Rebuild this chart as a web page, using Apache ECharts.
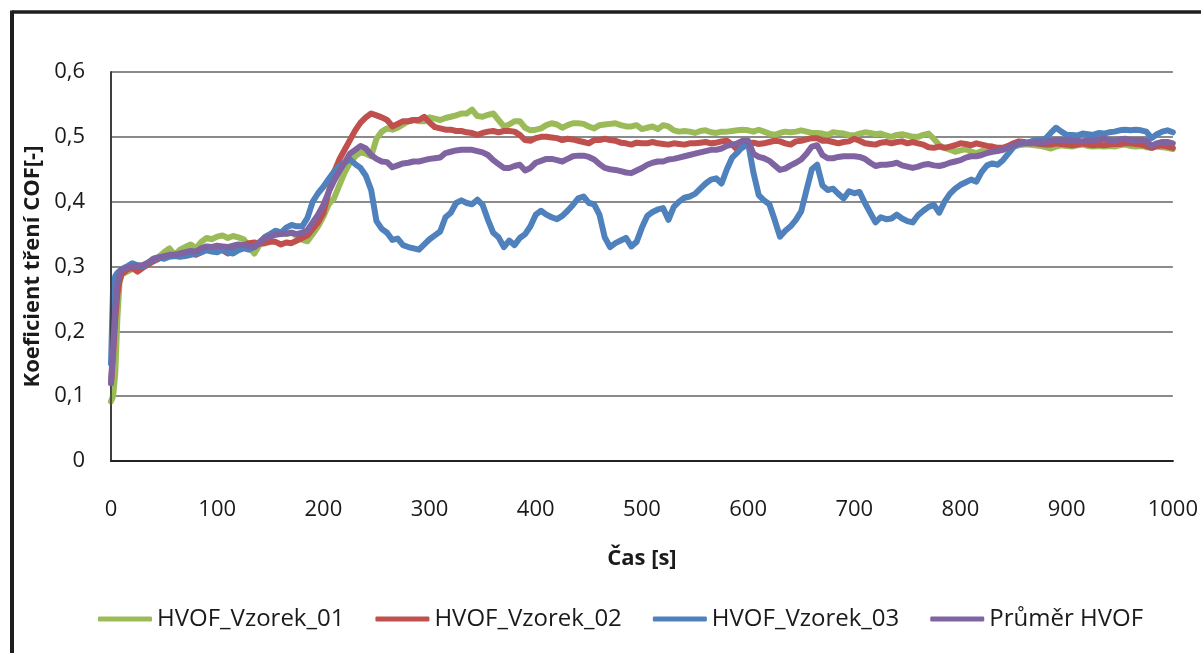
<!DOCTYPE html>
<html>
<head>
<meta charset="utf-8">
<title>Koeficient tření COF – HVOF</title>
<script src="https://cdn.jsdelivr.net/npm/echarts@6/dist/echarts.min.js"></script>
<style>
  html, body { margin: 0; padding: 0; background: #fff; }
  #chart { width: 1201px; height: 653px; }
</style>
</head>
<body>
<div id="chart"></div>
<script>
// Measurement time [s]
const times = [
  0, 2, 4, 6, 8, 10,
  15, 20, 25, 30, 35, 40, 45, 50, 55, 60,
  65, 70, 75, 80, 85, 90, 95, 100, 105, 110,
  115, 120, 125, 130, 135, 140, 145, 150, 155, 160,
  165, 170, 175, 180, 185, 190, 195, 200, 205, 210,
  215, 220, 225, 230, 235, 240, 245, 250, 255, 260,
  265, 270, 275, 280, 285, 290, 295, 300, 305, 310,
  315, 320, 325, 330, 335, 340, 345, 350, 355, 360,
  365, 370, 375, 380, 385, 390, 395, 400, 405, 410,
  415, 420, 425, 430, 435, 440, 445, 450, 455, 460,
  465, 470, 475, 480, 485, 490, 495, 500, 505, 510,
  515, 520, 525, 530, 535, 540, 545, 550, 555, 560,
  565, 570, 575, 580, 585, 590, 595, 600, 605, 610,
  615, 620, 625, 630, 635, 640, 645, 650, 655, 660,
  665, 670, 675, 680, 685, 690, 695, 700, 705, 710,
  715, 720, 725, 730, 735, 740, 745, 750, 755, 760,
  765, 770, 775, 780, 785, 790, 795, 800, 805, 810,
  815, 820, 825, 830, 835, 840, 845, 850, 855, 860,
  865, 870, 875, 880, 885, 890, 895, 900, 905, 910,
  915, 920, 925, 930, 935, 940, 945, 950, 955, 960,
  965, 970, 975, 980, 985, 990, 995, 1000
];

// Friction coefficient, sample 01
const vzorek01 = [
  0.092, 0.100, 0.135, 0.220, 0.275, 0.288,
  0.292, 0.296, 0.300, 0.302, 0.306, 0.312, 0.315, 0.322, 0.328, 0.318,
  0.326, 0.330, 0.334, 0.328, 0.338, 0.344, 0.342, 0.346, 0.348, 0.344,
  0.347, 0.345, 0.342, 0.330, 0.320, 0.334, 0.346, 0.350, 0.355, 0.353,
  0.350, 0.352, 0.347, 0.341, 0.339, 0.350, 0.362, 0.377, 0.396, 0.405,
  0.425, 0.445, 0.460, 0.470, 0.476, 0.474, 0.470, 0.497, 0.508, 0.513,
  0.511, 0.514, 0.519, 0.524, 0.526, 0.524, 0.524, 0.530, 0.528, 0.526,
  0.529, 0.531, 0.533, 0.536, 0.536, 0.542, 0.532, 0.531, 0.534, 0.536,
  0.526, 0.516, 0.519, 0.524, 0.524, 0.514, 0.510, 0.511, 0.513, 0.518,
  0.521, 0.519, 0.514, 0.518, 0.521, 0.521, 0.520, 0.516, 0.513, 0.518,
  0.519, 0.520, 0.521, 0.518, 0.516, 0.516, 0.518, 0.512, 0.514, 0.516,
  0.512, 0.518, 0.516, 0.510, 0.508, 0.509, 0.508, 0.506, 0.509, 0.510,
  0.507, 0.506, 0.508, 0.508, 0.509, 0.510, 0.511, 0.510, 0.508, 0.511,
  0.508, 0.505, 0.503, 0.506, 0.508, 0.507, 0.508, 0.510, 0.508, 0.506,
  0.506, 0.505, 0.503, 0.507, 0.506, 0.505, 0.503, 0.502, 0.505, 0.507,
  0.506, 0.504, 0.505, 0.502, 0.500, 0.503, 0.504, 0.502, 0.500, 0.500,
  0.503, 0.505, 0.497, 0.487, 0.483, 0.480, 0.477, 0.479, 0.481, 0.477,
  0.475, 0.478, 0.477, 0.479, 0.480, 0.481, 0.483, 0.486, 0.487, 0.488,
  0.488, 0.487, 0.486, 0.484, 0.482, 0.485, 0.487, 0.486, 0.485, 0.487,
  0.488, 0.486, 0.485, 0.486, 0.485, 0.486, 0.485, 0.487, 0.488, 0.486,
  0.485, 0.486, 0.484, 0.483, 0.485, 0.484, 0.483, 0.481
];

// Friction coefficient, sample 02
const vzorek02 = [
  0.120, 0.165, 0.220, 0.258, 0.278, 0.288,
  0.295, 0.298, 0.292, 0.298, 0.303, 0.308, 0.312, 0.315, 0.316, 0.318,
  0.318, 0.320, 0.321, 0.318, 0.322, 0.326, 0.330, 0.331, 0.325, 0.320,
  0.326, 0.330, 0.333, 0.336, 0.337, 0.335, 0.336, 0.338, 0.338, 0.334,
  0.337, 0.336, 0.340, 0.344, 0.348, 0.358, 0.368, 0.383, 0.415, 0.445,
  0.465, 0.480, 0.495, 0.510, 0.522, 0.530, 0.536, 0.533, 0.530, 0.526,
  0.516, 0.520, 0.524, 0.524, 0.526, 0.526, 0.531, 0.522, 0.515, 0.513,
  0.511, 0.511, 0.509, 0.509, 0.507, 0.506, 0.503, 0.506, 0.508, 0.509,
  0.507, 0.509, 0.509, 0.508, 0.503, 0.495, 0.494, 0.498, 0.500, 0.500,
  0.499, 0.498, 0.495, 0.497, 0.496, 0.494, 0.492, 0.490, 0.495, 0.495,
  0.497, 0.495, 0.494, 0.491, 0.490, 0.488, 0.491, 0.490, 0.490, 0.492,
  0.490, 0.489, 0.488, 0.490, 0.489, 0.488, 0.490, 0.490, 0.491, 0.492,
  0.490, 0.491, 0.493, 0.494, 0.488, 0.480, 0.484, 0.490, 0.491, 0.489,
  0.490, 0.492, 0.494, 0.493, 0.490, 0.488, 0.493, 0.494, 0.496, 0.498,
  0.498, 0.494, 0.494, 0.492, 0.490, 0.492, 0.493, 0.497, 0.494, 0.490,
  0.489, 0.488, 0.491, 0.492, 0.490, 0.492, 0.493, 0.490, 0.492, 0.490,
  0.488, 0.484, 0.483, 0.485, 0.483, 0.485, 0.487, 0.490, 0.489, 0.487,
  0.490, 0.488, 0.486, 0.485, 0.483, 0.483, 0.486, 0.490, 0.493, 0.492,
  0.490, 0.490, 0.489, 0.488, 0.488, 0.490, 0.489, 0.488, 0.487, 0.488,
  0.490, 0.488, 0.487, 0.488, 0.487, 0.488, 0.489, 0.489, 0.490, 0.490,
  0.489, 0.488, 0.486, 0.483, 0.486, 0.487, 0.485, 0.483
];

// Friction coefficient, sample 03
const vzorek03 = [
  0.150, 0.270, 0.285, 0.290, 0.293, 0.296,
  0.300, 0.305, 0.302, 0.300, 0.306, 0.310, 0.314, 0.312, 0.315, 0.316,
  0.315, 0.316, 0.318, 0.320, 0.322, 0.325, 0.323, 0.322, 0.326, 0.322,
  0.320, 0.325, 0.328, 0.326, 0.330, 0.338, 0.345, 0.350, 0.355, 0.352,
  0.360, 0.364, 0.362, 0.362, 0.375, 0.400, 0.413, 0.423, 0.435, 0.446,
  0.455, 0.460, 0.465, 0.458, 0.452, 0.440, 0.418, 0.370, 0.358, 0.352,
  0.341, 0.343, 0.333, 0.330, 0.328, 0.326, 0.334, 0.342, 0.348, 0.354,
  0.376, 0.383, 0.398, 0.402, 0.398, 0.396, 0.403, 0.395, 0.372, 0.352,
  0.345, 0.330, 0.340, 0.333, 0.344, 0.350, 0.362, 0.380, 0.386, 0.380,
  0.376, 0.373, 0.378, 0.386, 0.395, 0.405, 0.408, 0.398, 0.396, 0.380,
  0.345, 0.330, 0.336, 0.340, 0.344, 0.331, 0.338, 0.360, 0.378, 0.384,
  0.388, 0.390, 0.372, 0.392, 0.400, 0.406, 0.408, 0.412, 0.420, 0.428,
  0.434, 0.436, 0.428, 0.450, 0.468, 0.476, 0.485, 0.490, 0.445, 0.410,
  0.402, 0.396, 0.372, 0.346, 0.355, 0.362, 0.372, 0.385, 0.418, 0.450,
  0.457, 0.425, 0.418, 0.420, 0.412, 0.405, 0.416, 0.413, 0.415, 0.398,
  0.383, 0.368, 0.376, 0.373, 0.374, 0.380, 0.374, 0.370, 0.368, 0.379,
  0.386, 0.392, 0.395, 0.383, 0.400, 0.412, 0.420, 0.426, 0.430, 0.434,
  0.431, 0.446, 0.456, 0.459, 0.457, 0.464, 0.474, 0.484, 0.489, 0.490,
  0.492, 0.495, 0.495, 0.497, 0.506, 0.514, 0.508, 0.503, 0.503, 0.502,
  0.505, 0.504, 0.503, 0.506, 0.505, 0.507, 0.508, 0.510, 0.511, 0.510,
  0.511, 0.510, 0.508, 0.498, 0.504, 0.508, 0.510, 0.507
];

// Mean of the three samples
const prumer = [
  0.120, 0.175, 0.235, 0.272, 0.288, 0.295,
  0.298, 0.300, 0.301, 0.302, 0.306, 0.312, 0.314, 0.316, 0.318, 0.318,
  0.320, 0.322, 0.324, 0.323, 0.328, 0.331, 0.330, 0.332, 0.331, 0.330,
  0.332, 0.334, 0.333, 0.332, 0.330, 0.336, 0.344, 0.346, 0.349, 0.350,
  0.351, 0.352, 0.350, 0.352, 0.356, 0.368, 0.380, 0.395, 0.415, 0.432,
  0.447, 0.460, 0.474, 0.480, 0.486, 0.482, 0.472, 0.466, 0.462, 0.461,
  0.453, 0.456, 0.459, 0.460, 0.462, 0.462, 0.464, 0.466, 0.467, 0.468,
  0.475, 0.477, 0.479, 0.480, 0.480, 0.480, 0.478, 0.476, 0.472, 0.464,
  0.458, 0.452, 0.452, 0.455, 0.457, 0.448, 0.452, 0.460, 0.463, 0.466,
  0.466, 0.464, 0.462, 0.466, 0.470, 0.471, 0.471, 0.469, 0.465, 0.458,
  0.452, 0.450, 0.449, 0.447, 0.445, 0.444, 0.448, 0.452, 0.457, 0.460,
  0.462, 0.462, 0.465, 0.466, 0.468, 0.470, 0.472, 0.474, 0.476, 0.478,
  0.480, 0.480, 0.482, 0.486, 0.488, 0.490, 0.494, 0.494, 0.474, 0.469,
  0.467, 0.463, 0.456, 0.449, 0.451, 0.456, 0.460, 0.465, 0.474, 0.485,
  0.487, 0.472, 0.467, 0.467, 0.469, 0.470, 0.470, 0.470, 0.469, 0.466,
  0.460, 0.455, 0.457, 0.457, 0.458, 0.460, 0.456, 0.454, 0.452, 0.454,
  0.457, 0.458, 0.456, 0.455, 0.457, 0.460, 0.462, 0.464, 0.468, 0.470,
  0.470, 0.472, 0.475, 0.477, 0.478, 0.480, 0.484, 0.487, 0.490, 0.490,
  0.490, 0.491, 0.492, 0.492, 0.494, 0.495, 0.495, 0.495, 0.494, 0.494,
  0.493, 0.495, 0.494, 0.496, 0.497, 0.495, 0.494, 0.496, 0.497, 0.495,
  0.495, 0.495, 0.494, 0.486, 0.490, 0.492, 0.492, 0.490
];

const seriesNames = ['HVOF_Vzorek_01', 'HVOF_Vzorek_02', 'HVOF_Vzorek_03', 'Průměr HVOF'];
const seriesColors = ['#9BBB59', '#C0504D', '#4F81BD', '#8064A2'];
const seriesValues = [vzorek01, vzorek02, vzorek03, prumer];

const FONT = '"Open Sans", "Liberation Sans", sans-serif';
const TEXT = '#1a1a1a';
const LINE_WIDTH = 6;

function pairs(values) {
  const out = [];
  for (let i = 0; i < times.length && i < values.length; i++) {
    out.push([times[i], values[i]]);
  }
  return out;
}

const chart = echarts.init(document.getElementById('chart'), null, { renderer: 'canvas' });

const series = seriesNames.map((name, i) => ({
  name: name,
  type: 'line',
  data: pairs(seriesValues[i]),
  showSymbol: false,
  symbol: 'none',
  smooth: false,
  sampling: null,
  animation: false,
  xAxisIndex: 0,
  yAxisIndex: 0,
  color: seriesColors[i],
  lineStyle: { color: seriesColors[i], width: LINE_WIDTH, cap: 'round', join: 'round', opacity: 1 },
  emphasis: { disabled: true },
  itemStyle: { color: seriesColors[i] },
  z: 2 + i
}));

chart.setOption({
  backgroundColor: '#ffffff',
  animation: false,
  textStyle: { fontFamily: FONT },
  grid: { left: 111, right: 18, top: 72, bottom: 192, containLabel: false },
  xAxis: [
    {
      type: 'value',
      min: 0, max: 1000, interval: 100,
      position: 'bottom',
      name: 'Čas [s]',
      nameLocation: 'middle',
      nameGap: 87,
      nameTextStyle: { fontFamily: FONT, fontSize: 22, fontWeight: 'bold', color: TEXT },
      axisLine: { show: true, lineStyle: { color: '#8a8a8a', width: 2 } },
      axisTick: { show: false },
      axisLabel: {
        fontFamily: FONT, fontSize: 22, color: TEXT, margin: 38,
        formatter: v => String(v)
      },
      splitLine: { show: false }
    },
    {
      // plot-area frame, top edge
      type: 'value',
      min: 0, max: 1000,
      position: 'top',
      z: 5,
      axisLine: { show: true, lineStyle: { color: '#222', width: 2 } },
      axisTick: { show: false },
      axisLabel: { show: false },
      splitLine: { show: false }
    }
  ],
  yAxis: [
    {
      type: 'value',
      min: 0, max: 0.6, interval: 0.1,
      position: 'left',
      name: 'Koeficient tření COF[-]',
      nameLocation: 'middle',
      nameGap: 67,
      nameTextStyle: { fontFamily: FONT, fontSize: 22, fontWeight: 'bold', color: TEXT },
      axisLine: { show: true, lineStyle: { color: '#333', width: 1.5 } },
      axisTick: { show: false },
      axisLabel: {
        fontFamily: FONT, fontSize: 22, color: TEXT, margin: 26,
        formatter: v => (v === 0 ? '0' : v.toFixed(1).replace('.', ','))
      },
      splitLine: { show: true, lineStyle: { color: '#8a8a8a', width: 2 } }
    },
    {
      // plot-area frame, right edge
      type: 'value',
      min: 0, max: 0.6,
      position: 'right',
      z: 5,
      axisLine: { show: true, lineStyle: { color: '#333', width: 1.5 } },
      axisTick: { show: false },
      axisLabel: { show: false },
      splitLine: { show: false }
    }
  ],
  legend: {
    data: seriesNames,
    left: 93,
    top: 602,
    orient: 'horizontal',
    icon: 'roundRect',
    itemWidth: 54,
    itemHeight: 5,
    itemGap: 31,
    textStyle: { fontFamily: FONT, fontSize: 24, color: TEXT }
  },
  graphic: [
    // outer chart frame (left and top edges)
    { type: 'line', shape: { x1: 12, y1: 12, x2: 1201, y2: 12 }, style: { stroke: '#1e1e1e', lineWidth: 3.5 }, z: 10 },
    { type: 'line', shape: { x1: 12, y1: 10.5, x2: 12, y2: 653 }, style: { stroke: '#1e1e1e', lineWidth: 4 }, z: 10 }
  ],
  series: series
});
</script>
</body>
</html>
